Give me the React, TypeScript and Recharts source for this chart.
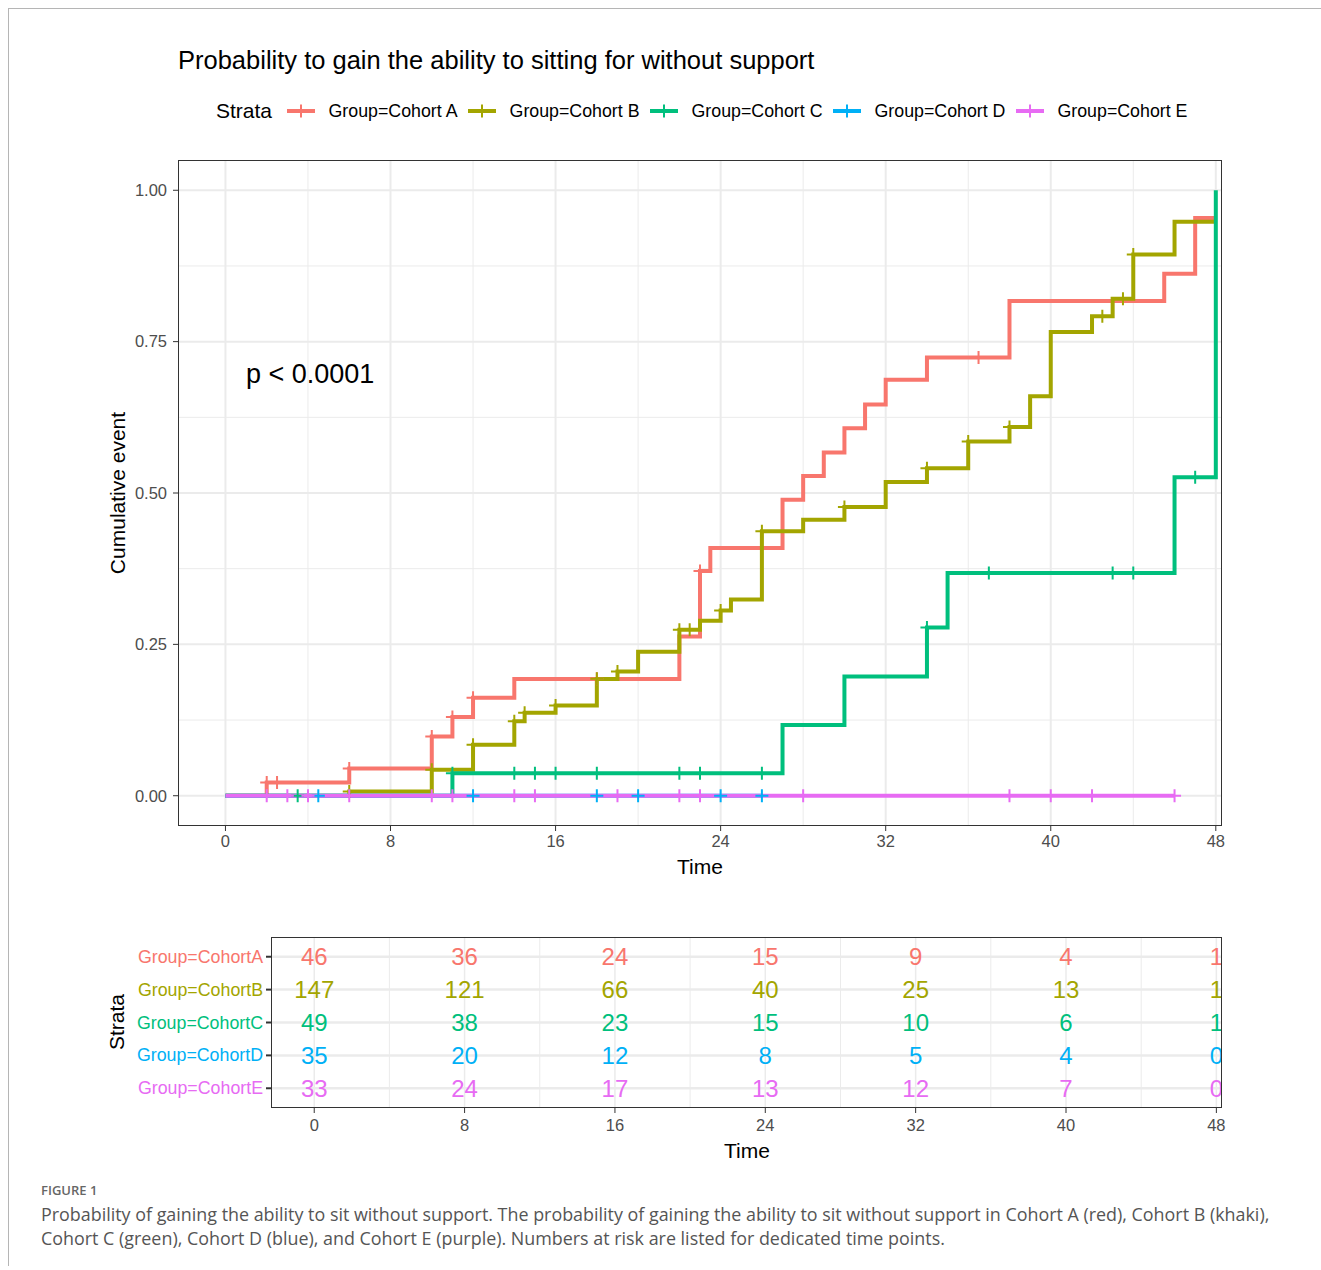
import React from 'react';
import { ComposedChart, Line, Scatter, XAxis, YAxis, ReferenceLine } from 'recharts';

// ---- data ----
const COHORTS = ['Cohort A', 'Cohort B', 'Cohort C', 'Cohort D', 'Cohort E'];
const COLORS = ['#F8766D', '#A3A500', '#00BF7D', '#00B0F6', '#E76BF3'];

// Kaplan-Meier steps (time in months, cumulative event)
const timesA = [0, 2, 6, 10, 11, 12, 14, 22, 23, 23.5, 27, 28, 29, 30, 31, 32, 34, 38, 45.5, 47, 48];
const eventA = [0, 0.022, 0.045, 0.098, 0.13, 0.162, 0.193, 0.263, 0.371, 0.409, 0.489, 0.528, 0.567, 0.607, 0.646, 0.687, 0.724, 0.817, 0.862, 0.954, 0.954];
const censorA = [2, 2.5, 6, 10, 11, 12, 18, 23, 36.5];

const timesB = [0, 6, 10, 12, 14, 14.5, 16, 18, 19, 20, 22, 23, 24, 24.5, 26, 28, 30, 32, 34, 36, 38, 39, 40, 42, 43, 44, 46, 48];
const eventB = [0, 0.007, 0.043, 0.084, 0.123, 0.137, 0.149, 0.193, 0.205, 0.238, 0.274, 0.289, 0.306, 0.324, 0.437, 0.456, 0.477, 0.518, 0.541, 0.585, 0.609, 0.66, 0.766, 0.792, 0.821, 0.894, 0.948, 0.948];
const censorB = [6, 10, 12, 14, 14.5, 16, 18, 19, 22, 22.5, 24, 26, 30, 34, 36, 38, 42.5, 43.5, 44];

const timesC = [0, 11, 27, 30, 34, 35, 46, 48];
const eventC = [0, 0.037, 0.117, 0.197, 0.278, 0.368, 0.526, 1];
const censorC = [3.5, 11, 14, 15, 16, 18, 22, 23, 26, 34, 37, 43, 44, 47];

const timesD = [0, 26];
const eventD = [0, 0];
const censorD = [4.5, 12, 18, 20, 24, 26];

const timesE = [0, 46];
const eventE = [0, 0];
const censorE = [2, 3, 4, 6, 10, 11, 14, 15, 19, 22, 23, 28, 38, 40, 42, 46];

// numbers at risk
const riskTimes = [0, 8, 16, 24, 32, 40, 48];
const riskA = [46, 36, 24, 15, 9, 4, 1];
const riskB = [147, 121, 66, 40, 25, 13, 1];
const riskC = [49, 38, 23, 15, 10, 6, 1];
const riskD = [35, 20, 12, 8, 5, 4, 0];
const riskE = [33, 24, 17, 13, 12, 7, 0];

const xTicks = [0, 8, 16, 24, 32, 40, 48];
const xMinor = [4, 12, 20, 28, 36, 44];
const yTicks = [0, 0.25, 0.5, 0.75, 1];
const yMinor = [0.125, 0.375, 0.625, 0.875];

// ---- build series ----
const stepAt = (times: number[], vals: number[], t: number) => {
  let v = vals[0];
  for (let i = 0; i < times.length; i++) if (times[i] <= t) v = vals[i];
  return v;
};

const curves = [
  [timesA, eventA, censorA],
  [timesB, eventB, censorB],
  [timesC, eventC, censorC],
  [timesD, eventD, censorD],
  [timesE, eventE, censorE],
].map(([times, vals, cens]) => ({
  steps: times.map((t, i) => ({ t, v: vals[i] })),
  censored: cens.map((t) => ({ t, v: stepAt(times, vals, t) })),
}));

const riskRows = [riskA, riskB, riskC, riskD, riskE].map((row, r) =>
  row.map((n, i) => ({ t: riskTimes[i], row: r + 1, n })),
);

const X_DOMAIN: [number, number] = [-2.3, 48.3];
const FONT = '"Liberation Sans", Arial, sans-serif';
const CAPTION_FONT = '"Open Sans", "Noto Sans", sans-serif';
const GRID = '#EBEBEB';

const plusShape = (color: string) => (p: any) => (
  <path
    d={`M${p.cx - 6.5},${p.cy}h13M${p.cx},${p.cy - 6.5}v13`}
    stroke={color}
    strokeWidth={2}
    fill="none"
  />
);

const riskText = (color: string) => (p: any) => (
  <text
    x={p.cx}
    y={p.cy}
    textAnchor="middle"
    dominantBaseline="central"
    fontSize={24}
    fontFamily={FONT}
    fill={color}
  >
    {p.payload.n}
  </text>
);

function LegendKey({ color }: { color: string }) {
  return (
    <svg width={28} height={16} style={{ display: 'block' }}>
      <line x1={0} y1={8} x2={28} y2={8} stroke={color} strokeWidth={4} />
      <path d="M7.5,8h13M14,1.5v13" stroke={color} strokeWidth={2} />
    </svg>
  );
}

const abs = (style: React.CSSProperties): React.CSSProperties => ({ position: 'absolute', ...style });

export default function App() {
  const tickStyle = { fontSize: 16.5, fill: '#4D4D4D', fontFamily: FONT };
  return (
    <div style={abs({ left: 0, top: 0, width: 1321, height: 1270, background: '#fff', fontFamily: FONT, overflow: 'hidden' })}>
      <div style={abs({ left: 8, top: 8, width: 1313, height: 1257, borderTop: '1px solid #b5b5b5', borderLeft: '1px solid #b5b5b5' })} />

      {/* title + legend */}
      <div style={abs({ left: 178, top: 46, fontSize: 25.5, lineHeight: '28px', whiteSpace: 'nowrap' })}>
        Probability to gain the ability to sitting for without support
      </div>
      <div style={abs({ left: 216, top: 99, height: 24, display: 'flex', alignItems: 'center', whiteSpace: 'nowrap' })}>
        <span style={{ fontSize: 21, marginRight: 15 }}>Strata</span>
        {COHORTS.map((c, i) => (
          <React.Fragment key={c}>
            <LegendKey color={COLORS[i]} />
            <span style={{ fontSize: 17.8, marginLeft: 13.5, marginRight: 10.5 }}>Group={c}</span>
          </React.Fragment>
        ))}
      </div>

      {/* main KM plot */}
      <div style={abs({ left: 0, top: 140 })}>
        <ComposedChart width={1240} height={760} margin={{ top: 20, right: 18, left: 118, bottom: 44 }}>
          <XAxis
            dataKey="t"
            type="number"
            domain={X_DOMAIN}
            ticks={xTicks}
            allowDataOverflow
            axisLine={false}
            tickLine={{ stroke: '#333' }}
            tickSize={5}
            tickMargin={4}
            tick={tickStyle}
            height={30}
          />
          <YAxis
            dataKey="v"
            type="number"
            domain={[-0.05, 1.05]}
            ticks={yTicks}
            allowDataOverflow
            tickFormatter={(v: number) => v.toFixed(2)}
            axisLine={false}
            tickLine={{ stroke: '#333' }}
            tickSize={5}
            tickMargin={6}
            tick={tickStyle}
            width={60}
          />
          {yMinor.map((y) => <ReferenceLine key={'ym' + y} y={y} stroke={GRID} strokeWidth={1} />)}
          {xMinor.map((x) => <ReferenceLine key={'xm' + x} x={x} stroke={GRID} strokeWidth={1} />)}
          {yTicks.map((y) => <ReferenceLine key={'y' + y} y={y} stroke={GRID} strokeWidth={2} />)}
          {xTicks.map((x) => <ReferenceLine key={'x' + x} x={x} stroke={GRID} strokeWidth={2} />)}

          {curves.map((c, i) => (
            <Line
              key={'l' + i}
              data={c.steps}
              dataKey="v"
              type="stepAfter"
              stroke={COLORS[i]}
              strokeWidth={4}
              dot={false}
              activeDot={false}
              isAnimationActive={false}
            />
          ))}
          {curves.map((c, i) => (
            <Scatter
              key={'s' + i}
              data={c.censored}
              dataKey="v"
              shape={plusShape(COLORS[i])}
              isAnimationActive={false}
            />
          ))}
        </ComposedChart>
      </div>
      <div style={abs({ left: 178, top: 160, width: 1044, height: 666, border: '1px solid #333', boxSizing: 'border-box', pointerEvents: 'none' })} />
      <div style={abs({ left: 246, top: 359, fontSize: 27, lineHeight: '30px', whiteSpace: 'nowrap' })}>p &lt; 0.0001</div>
      <div style={abs({ left: 118, top: 493, fontSize: 21, whiteSpace: 'nowrap', transform: 'translate(-50%, -50%) rotate(-90deg)' })}>
        Cumulative event
      </div>
      <div style={abs({ left: 700, top: 867, fontSize: 21, whiteSpace: 'nowrap', transform: 'translate(-50%, -50%)' })}>Time</div>

      {/* risk table */}
      <div style={abs({ left: 0, top: 920 })}>
        <ComposedChart width={1240} height={220} margin={{ top: 17, right: 18, left: 111, bottom: 4 }}>
          <XAxis
            dataKey="t"
            type="number"
            domain={X_DOMAIN}
            ticks={xTicks}
            allowDataOverflow
            axisLine={false}
            tickLine={{ stroke: '#333' }}
            tickSize={5}
            tickMargin={6}
            tick={tickStyle}
            height={28}
          />
          <YAxis
            dataKey="row"
            type="number"
            domain={[0.4, 5.6]}
            ticks={[1, 2, 3, 4, 5]}
            reversed
            allowDataOverflow
            axisLine={false}
            tickLine={{ stroke: '#333', strokeWidth: 2 }}
            tickSize={5}
            tickMargin={3}
            width={160}
            tick={(p: any) => (
              <text
                x={p.x}
                y={p.y}
                textAnchor="end"
                dominantBaseline="central"
                fontSize={17.8}
                fontFamily={FONT}
                fill={COLORS[p.payload.value - 1]}
              >
                Group={COHORTS[p.payload.value - 1].replace(' ', '')}
              </text>
            )}
          />
          {xMinor.map((x) => <ReferenceLine key={'txm' + x} x={x} stroke={GRID} strokeWidth={1} />)}
          {xTicks.map((x) => <ReferenceLine key={'tx' + x} x={x} stroke={GRID} strokeWidth={1.5} />)}
          {[1, 2, 3, 4, 5].map((y) => <ReferenceLine key={'ty' + y} y={y} stroke={GRID} strokeWidth={2.5} />)}
          {riskRows.map((rows, i) => (
            <Scatter
              key={'r' + i}
              data={rows}
              dataKey="row"
              shape={riskText(COLORS[i])}
              isAnimationActive={false}
            />
          ))}
        </ComposedChart>
      </div>
      <div style={abs({ left: 271, top: 937, width: 951, height: 171, border: '1px solid #333', boxSizing: 'border-box', pointerEvents: 'none' })} />
      <div style={abs({ left: 117, top: 1022, fontSize: 21, whiteSpace: 'nowrap', transform: 'translate(-50%, -50%) rotate(-90deg)' })}>
        Strata
      </div>
      <div style={abs({ left: 747, top: 1151, fontSize: 21, whiteSpace: 'nowrap', transform: 'translate(-50%, -50%)' })}>Time</div>

      {/* caption */}
      <div style={abs({ left: 41, top: 1181, fontSize: 13, lineHeight: '18px', color: '#666', fontFamily: CAPTION_FONT, fontWeight: 600 })}>
        FIGURE 1
      </div>
      <div style={abs({ left: 41, top: 1202, fontSize: 17.9, lineHeight: '24px', color: '#555', fontFamily: CAPTION_FONT, whiteSpace: 'nowrap' })}>
        Probability of gaining the ability to sit without support. The probability of gaining the ability to sit without support in Cohort A (red), Cohort B (khaki),
        <br />
        Cohort C (green), Cohort D (blue), and Cohort E (purple). Numbers at risk are listed for dedicated time points.
      </div>
    </div>
  );
}
